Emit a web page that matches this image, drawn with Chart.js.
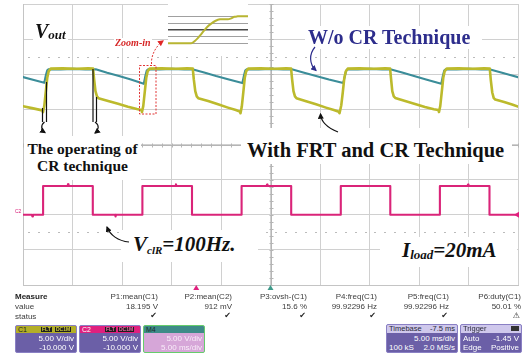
<!DOCTYPE html>
<html>
<head>
<meta charset="utf-8">
<title>Vout transient with FRT and CR technique</title>
<script src="https://cdn.jsdelivr.net/npm/chart.js@4.4.1/dist/chart.umd.min.js"></script>
<style>
  html, body { margin:0; padding:0; background:#fff; }
  #scope { position:relative; width:525px; height:354px; overflow:hidden; background:#fff; }
  #main { position:absolute; left:0; top:0; }
  #zoomPlot { position:absolute; left:168px; top:4px; background:#fff; }
  .note { position:absolute; background:#fff; font-family:"Liberation Serif","Times New Roman",serif; font-weight:bold; white-space:nowrap; line-height:1; color:#111; }
  .it { font-style:italic; }
  #arrows { position:absolute; left:0; top:0; pointer-events:none; }
  .ui { position:absolute; font-family:"Liberation Sans",Arial,sans-serif; font-size:8px; line-height:8px; color:#3c3c3c; white-space:nowrap; }
  .chk { font-family:"DejaVu Sans",sans-serif; color:#222; }
  .box { position:absolute; border-radius:2px; overflow:hidden; background:#6b5fa7; font-family:"Liberation Sans",Arial,sans-serif; font-size:8px; line-height:8px; color:#fff; box-sizing:border-box; border:1px solid #8a80c4; }
  .box .hd { position:absolute; left:0; right:0; top:0; height:7px; font-size:7px; line-height:7px; padding-left:2px; }
  .box .ln { position:absolute; right:2px; white-space:nowrap; }
  .box .lf { position:absolute; left:2px; white-space:nowrap; }
  .tag { position:absolute; top:1px; height:5px; font-size:5px; line-height:5px; background:#1e1e1e; padding:0 1px; font-weight:bold; }
</style>
</head>
<body>
<div id="scope">
  <canvas id="main" width="525" height="295"></canvas>
  <canvas id="zoomPlot" width="80" height="52"></canvas>

  <div class="note it" style="left:33px;top:21px;font-size:20px;padding:0 2px;">V<span style="font-size:13px;vertical-align:-1px;">out</span></div>
  <div class="note it" style="left:114px;top:38px;font-size:10px;color:#d62828;padding:0 1px;">Zoom-in</div>
  <div class="note" style="left:305px;top:26px;font-size:20px;color:#2d2d8c;padding:1px 12px 2px 3px;">W/o CR Technique</div>
  <div class="note" style="left:24px;top:136px;font-size:15.5px;line-height:16.7px;text-align:center;width:117px;padding:5px 0 6px 0;">The operating of<br>CR technique</div>
  <div class="note" style="left:241px;top:128px;font-size:20.5px;padding:12px 8px 3px 6px;">With FRT and CR Technique</div>
  <div class="note it" style="left:121px;top:230px;font-size:21px;padding:4px 22px 6px 12px;">V<span style="font-size:11px;vertical-align:-3px;">clR</span>=100Hz.</div>
  <div class="note it" style="left:380px;top:237px;font-size:21px;padding:3px 20px 6px 22px;">I<span style="font-size:13px;vertical-align:-2px;">load</span>=20mA</div>
  <div class="ui" style="left:15px;top:209px;font-size:5px;line-height:5px;color:#d9207a;">C2</div>

  <svg id="arrows" width="525" height="354" viewBox="0 0 525 354">
    <defs>
      <marker id="hk" viewBox="0 0 10 10" refX="8" refY="5" markerWidth="5" markerHeight="5" orient="auto"><path d="M0,0 L10,5 L0,10 z" fill="#111"/></marker>
      <marker id="hn" viewBox="0 0 10 10" refX="8" refY="5" markerWidth="5" markerHeight="5" orient="auto"><path d="M0,0 L10,5 L0,10 z" fill="#2d2d8c"/></marker>
      <marker id="hr" viewBox="0 0 10 10" refX="8" refY="5" markerWidth="6" markerHeight="6" orient="auto"><path d="M0,0 L10,5 L0,10 z" fill="#e02626"/></marker>
    </defs>
    <rect x="139.5" y="65.5" width="16.5" height="48.5" fill="none" stroke="#e03434" stroke-width="1" stroke-dasharray="2 1.5"/>
    <path d="M151.5 64 C151 55 156 46 163 41" fill="none" stroke="#e03434" stroke-width="1" stroke-dasharray="2 1.5" marker-end="url(#hr)"/>
    <g fill="none" stroke="#111" stroke-width="1.2">
      <path d="M42.5 108 V122"/>
      <path d="M46.5 82 V122"/>
      <path d="M44.5 122 C40.5 125 41 130 45 132.5" marker-end="url(#hk)"/>
      <path d="M93 69 V122"/>
      <path d="M96.5 97 V122"/>
      <path d="M95 122 C99.5 125 99 130 95 133" marker-end="url(#hk)"/>
      <path d="M338 132 C328 128 321 122 320.5 114" marker-end="url(#hk)"/>
      <path d="M129 242 C118 241 110 235 107 227" marker-end="url(#hk)"/>
    </g>
    <path d="M315 47 C309 54 309 64 316 70.5" fill="none" stroke="#2d2d8c" stroke-width="1.2" marker-end="url(#hn)"/>
  </svg>

  <div id="measure"></div>

  <div class="box" style="left:15px;top:325px;width:62px;height:28px;">
    <div class="hd" style="background:#b3ae27;color:#1d1d1d;">C1<span class="tag" style="left:25px;color:#d8d23a;">FLT</span><span class="tag" style="left:39px;color:#d8d23a;">DC1M</span></div>
    <div class="ln" style="top:9px;">5.00 V/div</div>
    <div class="ln" style="top:18px;">-10.000 V</div>
  </div>
  <div class="box" style="left:79px;top:325px;width:62px;height:28px;">
    <div class="hd" style="background:#e0207e;color:#fff;">C2<span class="tag" style="left:25px;color:#f06aa8;">FLT</span><span class="tag" style="left:38px;color:#f06aa8;">DC1M</span></div>
    <div class="ln" style="top:9px;">5.00 V/div</div>
    <div class="ln" style="top:18px;">-10.000 V</div>
  </div>
  <div class="box" style="left:143px;top:325px;width:62px;height:28px;background:#d6a6d8;border-color:#66cc6c;">
    <div class="hd" style="background:#3e8b88;color:#1d2b2b;">M4</div>
    <div class="ln" style="top:9px;color:#f8ecf8;">5.00 V/div</div>
    <div class="ln" style="top:18px;color:#f8ecf8;">5.00 ms/div</div>
  </div>
  <div class="box" style="left:386px;top:324px;width:72px;height:29px;">
    <div class="hd" style="background:#cfc8ec;color:#2a2a3a;height:8px;font-size:7.5px;line-height:8px;">Timebase<span style="position:absolute;right:2px;">-7.5 ms</span></div>
    <div class="ln" style="top:10px;">5.00 ms/div</div>
    <div class="lf" style="top:19px;">100 kS</div>
    <div class="ln" style="top:19px;">2.0 MS/s</div>
  </div>
  <div class="box" style="left:460px;top:324px;width:62px;height:29px;">
    <div class="hd" style="background:#cfc8ec;color:#2a2a3a;height:8px;font-size:7.5px;line-height:8px;">Trigger<span style="position:absolute;right:2px;top:1px;width:8px;height:5px;background:#333;"></span></div>
    <div class="lf" style="top:10px;">Auto</div>
    <div class="ln" style="top:10px;">-1.45 V</div>
    <div class="lf" style="top:19px;">Edge</div>
    <div class="ln" style="top:19px;">Positive</div>
  </div>
</div>

<script>
// C1 without CR technique (time in ms, volts)
const tealT = [0, 1.0, 2.15, 2.3, 2.45, 2.6, 3.8, 5.1, 6.3, 7.35,
  8.5, 9.7, 10.9, 12.2, 12.35, 12.5, 12.65, 13.8, 15.1, 16.3, 17.1,
  18.3, 19.5, 20.8, 22.15, 22.3, 22.45, 22.6, 23.8, 25.1, 26.3, 27.15,
  28.4, 29.6, 30.9, 32.35, 32.5, 32.65, 32.8, 33.8, 35.1, 36.3, 37.1,
  38.3, 39.5, 40.8, 42.25, 42.4, 42.55, 42.7, 43.8, 45.1, 46.3, 47.1,
  48.3, 49.2, 50];
const tealV = [19.6, 19.22, 18.78, 19.8, 20.55, 20.72, 20.7, 20.76, 20.7, 20.72,
  20.22, 19.76, 19.25, 18.64, 19.7, 20.52, 20.72, 20.7, 20.76, 20.7, 20.72,
  20.24, 19.74, 19.26, 18.74, 19.7, 20.52, 20.72, 20.7, 20.76, 20.7, 20.72,
  20.22, 19.76, 19.24, 18.74, 19.7, 20.52, 20.72, 20.7, 20.76, 20.7, 20.72,
  20.24, 19.74, 19.22, 18.64, 19.7, 20.52, 20.72, 20.7, 20.76, 20.7, 20.72,
  20.24, 19.9, 19.58];

// C1 with FRT and CR technique
const yellowT = [0, 0.9, 1.95,
  2.02, 2.15, 2.3, 2.45, 2.6, 2.8, 4.0, 5.4, 6.6, 7.08, 7.18, 7.32, 7.47, 7.62, 8.6, 9.6, 10.6, 11.5, 11.95,
  12.02, 12.15, 12.3, 12.45, 12.6, 12.8, 14.0, 15.4, 16.6, 17.15, 17.25, 17.4, 17.55, 17.7, 18.7, 19.7, 20.7, 21.5, 21.9,
  21.97, 22.1, 22.25, 22.4, 22.55, 22.75, 24.0, 25.4, 26.6, 27.08, 27.18, 27.32, 27.47, 27.62, 28.6, 29.6, 30.6, 31.4, 31.9,
  31.97, 32.15, 32.3, 32.45, 32.6, 32.8, 34.0, 35.4, 36.6, 37.08, 37.18, 37.3, 37.45, 37.6, 38.6, 39.6, 40.6, 41.5, 41.95,
  42.02, 42.15, 42.3, 42.45, 42.6, 42.8, 44.0, 45.4, 46.6, 47.15, 47.25, 47.4, 47.55, 47.7, 48.6, 49.4, 50];
const yellowV = [15.45, 15.18, 14.86,
  14.6, 15.5, 17.5, 19.5, 20.45, 20.8, 20.84, 20.78, 20.84, 20.8, 19.3, 17.6, 16.85, 16.6, 16.2, 15.8, 15.38, 15.05, 14.9,
  14.62, 15.5, 17.5, 19.5, 20.45, 20.8, 20.84, 20.78, 20.84, 20.8, 19.3, 17.6, 16.85, 16.6, 16.18, 15.72, 15.25, 14.9, 14.68,
  14.45, 15.4, 17.4, 19.5, 20.45, 20.8, 20.84, 20.78, 20.84, 20.8, 19.3, 17.6, 16.85, 16.6, 16.17, 15.72, 15.25, 14.9, 14.66,
  14.45, 15.6, 17.4, 19.4, 20.4, 20.8, 20.84, 20.78, 20.84, 20.8, 19.3, 17.6, 16.85, 16.62, 16.2, 15.78, 15.35, 15.02, 14.9,
  14.62, 15.5, 17.5, 19.5, 20.45, 20.8, 20.84, 20.78, 20.84, 20.8, 19.2, 17.4, 16.6, 16.4, 16.05, 15.7, 15.4];

// C2: 100 Hz control clock VclR
const pinkT = [0, 0.9, 0.95, 1.0, 2.03, 2.03, 4.5, 4.55, 4.6, 7.05, 7.05, 9.3, 9.35, 9.4,
  12.06, 12.06, 15.4, 15.45, 15.5, 17.07, 17.07, 22.08, 22.08, 24.6, 24.65, 24.7, 27.09, 27.09,
  32.1, 32.1, 37.1, 37.1, 42.11, 42.11, 44.9, 44.95, 45.0, 47.12, 47.12, 50];
const pinkV = [0, 0, -0.25, 0, 0, 4.1, 4.1, 4.35, 4.1, 4.1, 0, 0, -0.25, 0,
  0, 4.1, 4.1, 4.35, 4.1, 4.1, 0, 0, 4.1, 4.1, 4.3, 4.1, 4.1, 0,
  0, 4.1, 4.1, 0, 0, 4.1, 4.1, 4.3, 4.1, 4.1, 0, 0];

// magnified rising edge (divisions of the zoom window)
const insetT = [-2.5, -1.5, -1.05, -0.85, -0.65, -0.45, -0.25, -0.05, 0.2, 0.45, 0.75, 1.0, 1.25, 1.45, 1.65, 1.85, 2.1, 2.5];
const insetV = [-2.0, -2.0, -1.98, -1.7, -1.25, -0.7, -0.1, 0.45, 0.95, 1.35, 1.6, 1.62, 1.6, 1.75, 1.98, 2.05, 2.08, 2.08];

// measurement readout
const measureNames = ["P1:mean(C1)", "P2:mean(C2)", "P3:ovsh-(C1)", "P4:freq(C1)", "P5:freq(C1)", "P6:duty(C1)"];
const measureValues = ["18.195 V", "912 mV", "15.6 %", "99.92296 Hz", "99.92296 Hz", "50.01 %"];
const measureStatus = ["\u2714", "\u2714", "\u2714", "\u2714", "\u2714", "\u26A0"];

const triggerTime = 17.5;   // trigger point (timebase -7.5 ms)
const centreTime = 25;
const centreVolt = 10;

const pts = (xs, ys) => xs.map((x, i) => ({ x, y: ys[i] }));

const graticule = {
  id: 'graticule',
  beforeDatasetsDraw(chart) {
    const { ctx, scales: { x, y } } = chart;
    const cx = Math.round(x.getPixelForValue(centreTime)) + 0.5;
    const cy = Math.round(y.getPixelForValue(centreVolt)) + 0.5;
    ctx.save();
    ctx.strokeStyle = '#b5b5b5';
    ctx.lineWidth = 1;
    ctx.beginPath();
    ctx.moveTo(x.left, cy); ctx.lineTo(x.right, cy);
    ctx.moveTo(cx, y.top); ctx.lineTo(cx, y.bottom);
    for (let t = x.min; t <= x.max; t += 1) {
      const px = Math.round(x.getPixelForValue(t)) + 0.5;
      ctx.moveTo(px, cy - 2); ctx.lineTo(px, cy + 2);
    }
    for (let v = y.min; v <= y.max; v += 1) {
      const py = Math.round(y.getPixelForValue(v)) + 0.5;
      ctx.moveTo(cx - 2, py); ctx.lineTo(cx + 2, py);
    }
    ctx.stroke();
    ctx.fillStyle = '#bbbbbb';
    [22.5, -2.5].forEach(v => {
      const py = Math.round(y.getPixelForValue(v));
      for (let t = 0.5; t < x.max; t += 1) {
        ctx.fillRect(Math.round(x.getPixelForValue(t)), py, 2, 1);
      }
    });
    ctx.restore();
  },
  afterDatasetsDraw(chart) {
    const { ctx, scales: { x, y } } = chart;
    const b = y.bottom;
    const tri = (px, color) => {
      ctx.fillStyle = color;
      ctx.beginPath();
      ctx.moveTo(px, b); ctx.lineTo(px - 3, b + 5); ctx.lineTo(px + 3, b + 5);
      ctx.closePath(); ctx.fill();
    };
    ctx.save();
    tri(x.getPixelForValue(triggerTime), '#e0207e');
    tri(x.getPixelForValue(centreTime), '#3e9a8a');
    const py = y.getPixelForValue(pinkV[pinkV.length - 1]);
    ctx.fillStyle = '#e0207e';
    ctx.beginPath();
    ctx.moveTo(x.right - 4, py); ctx.lineTo(x.right + 1, py - 3); ctx.lineTo(x.right + 1, py + 3);
    ctx.closePath(); ctx.fill();
    ctx.restore();
  }
};

new Chart(document.getElementById('main'), {
  type: 'line',
  data: {
    datasets: [
      { label: 'With FRT and CR Technique', data: pts(yellowT, yellowV), borderColor: '#bcba2c', borderWidth: 2.6, order: 0 },
      { label: 'W/o CR Technique', data: pts(tealT, tealV), borderColor: '#3b8d99', borderWidth: 2.1, order: 1 },
      { label: 'VclR', data: pts(pinkT, pinkV), borderColor: '#da2479', borderWidth: 2.1, order: 2 }
    ]
  },
  options: {
    responsive: false,
    animation: false,
    devicePixelRatio: 1,
    layout: { padding: { left: 23, top: 4, right: 7, bottom: 10 } },
    elements: { point: { radius: 0 }, line: { tension: 0, borderJoinStyle: 'round', borderCapStyle: 'round' } },
    plugins: { legend: { display: false }, tooltip: { enabled: false } },
    scales: {
      x: { type: 'linear', min: 0, max: 50, ticks: { display: false, stepSize: 5 },
           grid: { color: '#d0d0d0', drawTicks: false }, border: { display: true, color: '#c4c4c4' } },
      y: { type: 'linear', min: -10, max: 30, ticks: { display: false, stepSize: 5 },
           grid: { color: '#d0d0d0', drawTicks: false }, border: { display: true, color: '#c4c4c4' } }
    }
  },
  plugins: [graticule]
});

const insetGrid = {
  color: c => c.tick.value === 0 ? '#4a4a4a' : (Number.isInteger(c.tick.value) ? '#a0a0a0' : 'rgba(0,0,0,0)'),
  lineWidth: c => c.tick.value === 0 ? 1.5 : 1,
  drawTicks: false
};

new Chart(document.getElementById('zoomPlot'), {
  type: 'line',
  data: { datasets: [{ data: pts(insetT, insetV), borderColor: '#b8b532', borderWidth: 2, cubicInterpolationMode: 'monotone' }] },
  options: {
    responsive: false,
    animation: false,
    devicePixelRatio: 1,
    layout: { padding: 0 },
    elements: { point: { radius: 0 } },
    plugins: { legend: { display: false }, tooltip: { enabled: false } },
    scales: {
      x: { type: 'linear', min: -2.5, max: 2.5, ticks: { display: false, stepSize: 1 }, grid: insetGrid, border: { display: false } },
      y: { type: 'linear', min: -3.9, max: 3.9, ticks: { display: false, stepSize: 1 }, grid: insetGrid, border: { display: false } }
    }
  }
});

// readout table
const colRight = [158, 232, 307, 377, 449, 521];
const host = document.getElementById('measure');
const put = (text, css, cls) => {
  const d = document.createElement('div');
  d.className = 'ui' + (cls ? ' ' + cls : '');
  d.textContent = text;
  Object.assign(d.style, css);
  host.appendChild(d);
};
put('Measure', { left: '15px', top: '292.5px', fontWeight: 'bold', color: '#1e1e1e' });
put('value', { left: '15px', top: '302.5px' });
put('status', { left: '15px', top: '313px' });
measureNames.forEach((name, i) => {
  const right = (525 - colRight[i]) + 'px';
  put(name, { right, top: '292.5px' });
  put(measureValues[i], { right, top: '302.5px' });
  put(measureStatus[i], { right: (525 - colRight[i] + 1) + 'px', top: '312px' }, 'chk');
});
</script>
</body>
</html>
